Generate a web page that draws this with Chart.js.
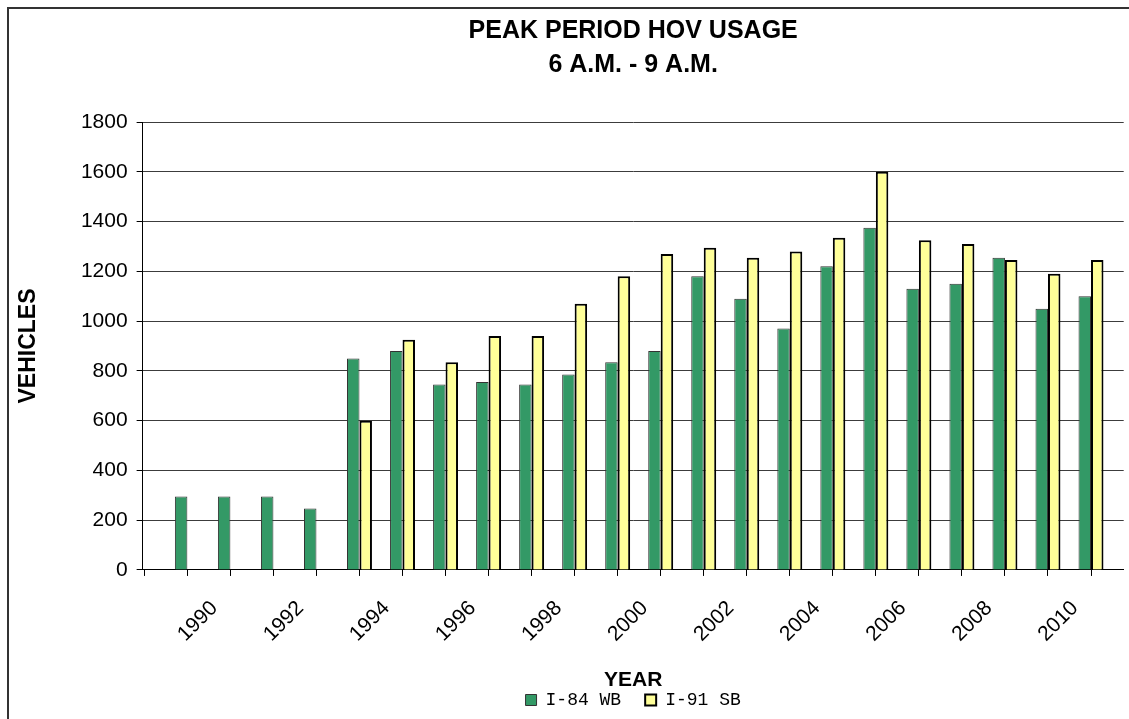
<!DOCTYPE html>
<html>
<head>
<meta charset="utf-8">
<title>Peak Period HOV Usage</title>
<script src="https://cdn.jsdelivr.net/npm/chart.js@4.4.0/dist/chart.umd.min.js"></script>
<style>
  body { margin: 0; background: #fff; }
</style>
</head>
<body>
<canvas id="hovChart" width="1129" height="719"></canvas>
<script>
const years = [1990, 1991, 1992, 1993, 1994, 1995, 1996, 1997, 1998, 1999, 2000,
               2001, 2002, 2003, 2004, 2005, 2006, 2007, 2008, 2009, 2010, 2011];
const i84wb = [295, 295, 295, 247, 850, 880, 745, 755, 745, 785, 835,
               880, 1180, 1090, 970, 1220, 1375, 1130, 1150, 1255, 1050, 1100];
const i91sb = [null, null, null, null, 600, 925, 835, 940, 940, 1070, 1180,
               1270, 1295, 1255, 1280, 1335, 1600, 1325, 1310, 1245, 1190, 1245];
const yearLabels = [1990, 1992, 1994, 1996, 1998, 2000, 2002, 2004, 2006, 2008, 2010];

const toPoints = (vals) => vals.map((v, i) => ({ x: years[i], y: v }));

// fondo blanco y marco del grafico (solo se ve arriba y a la izquierda)
const chartFrame = {
  id: 'chartFrame',
  beforeDraw(chart) {
    const ctx = chart.ctx;
    ctx.save();
    ctx.fillStyle = '#fff';
    ctx.fillRect(0, 0, chart.width, chart.height);
    ctx.strokeStyle = '#333';
    ctx.lineWidth = 2;
    ctx.strokeRect(8, 8, chart.width + 40, chart.height + 40);
    ctx.restore();
  }
};

const data = {
  datasets: [{
    label: 'I-84 WB',
    data: toPoints(i84wb),
    backgroundColor: '#339966',
    borderColor: '#333',
    borderWidth: 1
  }, {
    label: 'I-91 SB',
    data: toPoints(i91sb),
    backgroundColor: '#FFFF99',
    borderColor: '#000',
    borderWidth: 2
  }]
};

const config = {
  type: 'bar',
  data: data,
  options: {
    responsive: false,
    animation: false,
    categoryPercentage: 0.58,
    barPercentage: 1.0,
    layout: { padding: { left: 10, right: 0, top: 0, bottom: 0 } },
    scales: {
      x: {
        type: 'linear',
        offset: false,
        min: 1988.96,
        max: 2011.76,
        grid: { offset: false, drawOnChartArea: false, drawTicks: true, tickLength: 6, tickColor: '#000' },
        border: { color: '#000', width: 1 },
        ticks: {
          stepSize: 1,
          includeBounds: false,
          autoSkip: false,
          minRotation: 45,
          maxRotation: 45,
          padding: 20,
          labelOffset: 27,
          color: '#000',
          font: { family: "'Liberation Sans', Arial", size: 21 },
          callback: (v) => yearLabels.includes(v) ? String(v) : ''
        },
        title: {
          display: true,
          text: 'YEAR',
          color: '#000',
          font: { family: "'Liberation Sans', Arial", size: 21, weight: 'bold' },
          padding: { top: 0.6, bottom: -25.6 }
        }
      },
      y: {
        min: 0,
        max: 1800,
        grid: { color: '#3c3c3c', lineWidth: 1, tickLength: 6, tickColor: '#000' },
        border: { color: '#000', width: 1 },
        ticks: {
          stepSize: 200,
          padding: 9,
          color: '#000',
          font: { family: "'Liberation Sans', Arial", size: 21 },
          callback: (v) => String(v)
        },
        title: {
          display: true,
          text: 'VEHICLES',
          color: '#000',
          font: { family: "'Liberation Sans', Arial", size: 23, weight: 'bold' },
          padding: { top: 4.5, bottom: 29.8 }
        }
      }
    },
    plugins: {
      title: {
        display: true,
        fullSize: false,
        text: ['PEAK PERIOD HOV USAGE', '6 A.M. - 9 A.M.'],
        color: '#000',
        font: { family: "'Liberation Sans', Arial", size: 25, weight: 'bold', lineHeight: 1.36 },
        padding: { top: 14, bottom: 40 }
      },
      legend: {
        position: 'bottom',
        fullSize: false,
        labels: {
          color: '#000',
          boxWidth: 11,
          boxHeight: 11,
          padding: 24,
          font: { family: "'Liberation Mono', 'Courier New', monospace", size: 18 }
        }
      },
      tooltip: { enabled: false }
    }
  },
  plugins: [chartFrame]
};

let hovChart = new Chart(document.getElementById('hovChart'), config);
</script>
</body>
</html>
